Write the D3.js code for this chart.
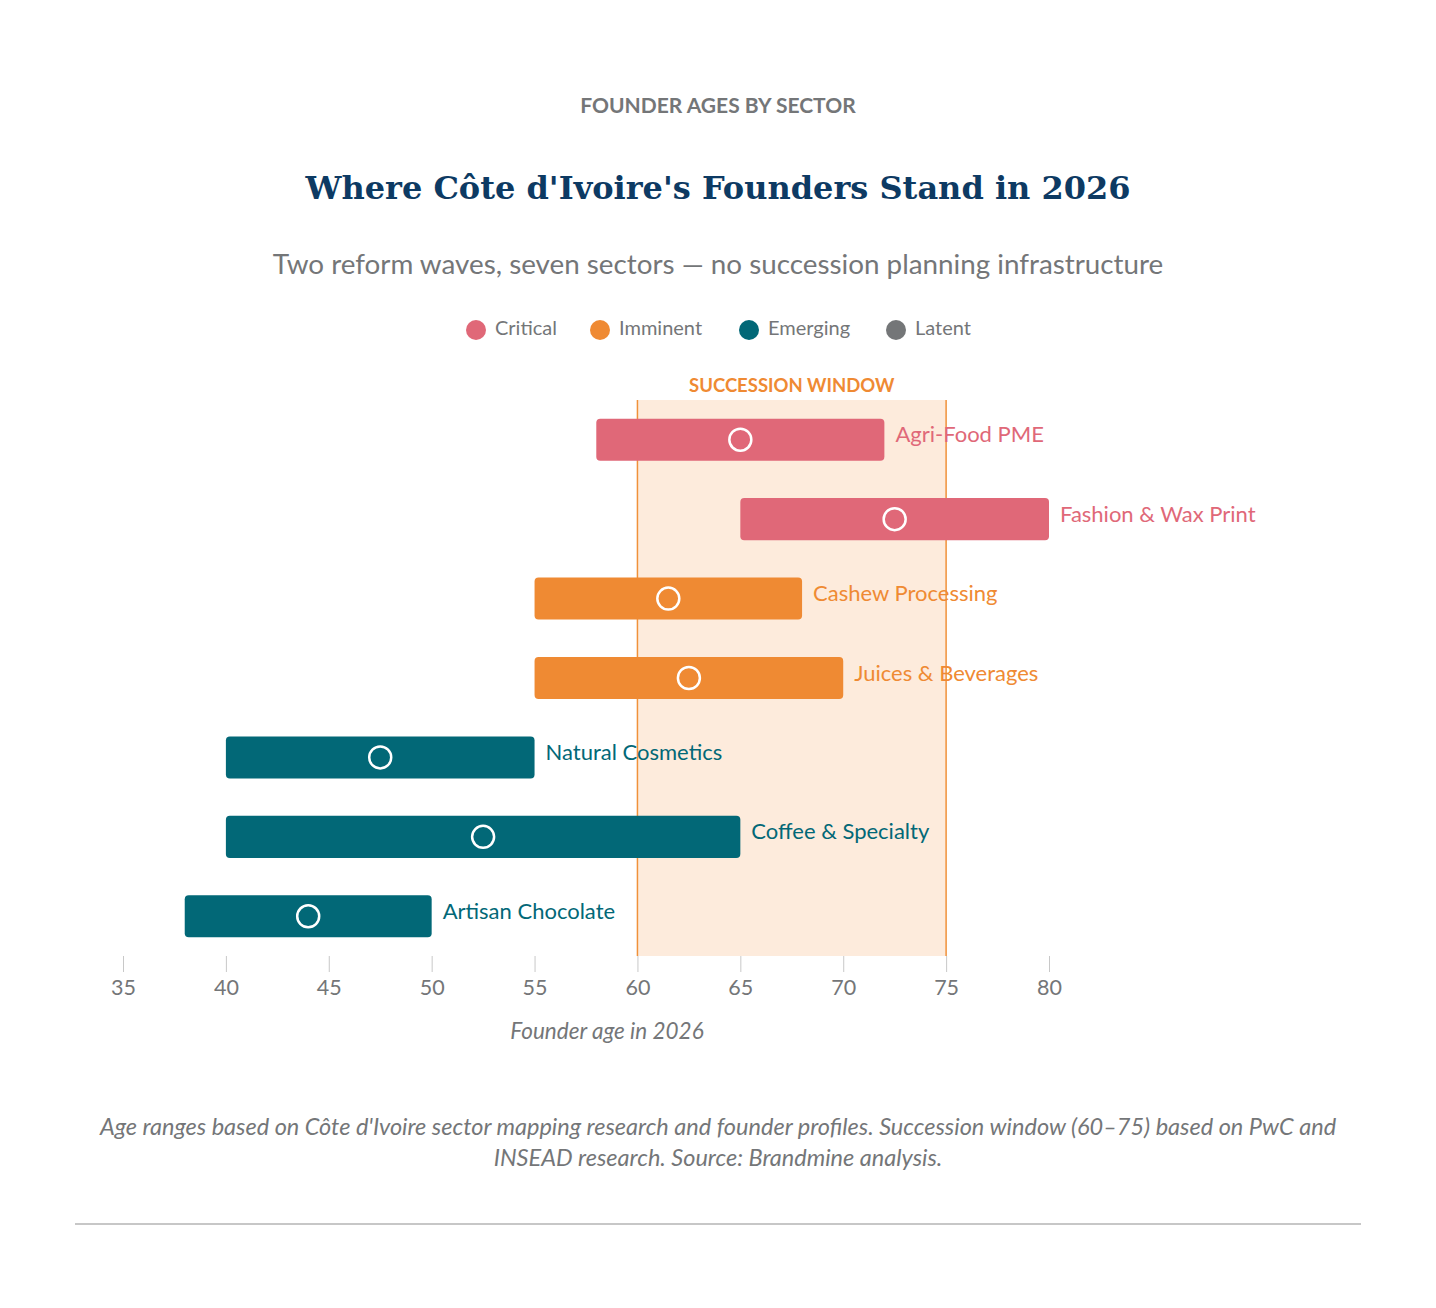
<!DOCTYPE html>
<html><head><meta charset="utf-8">
<script src="https://cdn.jsdelivr.net/npm/d3@7"></script>
<style>
html,body{margin:0;padding:0;background:#fff;}
svg text{font-family:Lato,"Noto Sans",sans-serif;}
</style></head>
<body>
<svg id="chart" width="1436" height="1308"></svg>
<script>
const sectors = ["Agri-Food PME","Fashion & Wax Print","Cashew Processing","Juices & Beverages","Natural Cosmetics","Coffee & Specialty","Artisan Chocolate"];
const ageMin = [58,65,55,55,40,40,38];
const ageMax = [72,80,68,70,55,65,50];
const ageMid = [65,72.5,61.5,62.5,47.5,52.5,44];
const tiers = ["Critical","Critical","Imminent","Imminent","Emerging","Emerging","Emerging"];
const legendTiers = ["Critical","Imminent","Emerging","Latent"];
const tierColors = ["#e06878","#ef8a33","#026877","#747678"];
const windowRange = [60,75];
const xTicks = [35,40,45,50,55,60,65,70,75,80];

const svg = d3.select("#chart");
const color = d3.scaleOrdinal().domain(legendTiers).range(tierColors);
const x = d3.scaleLinear().domain([35,80]).range([123,1049]);
const y = d3.scaleBand().domain(sectors).range([400,956]).paddingInner(0.47).paddingOuter(0.235);

// Header
svg.append("text").attr("x",718).attr("y",113).attr("text-anchor","middle")
  .attr("font-size",21).attr("font-weight",700).attr("fill","#747678")
  .text("FOUNDER AGES BY SECTOR");
svg.append("text").attr("x",718).attr("y",199).attr("text-anchor","middle")
  .style("font-family","'DejaVu Serif',serif")
  .attr("font-size",32).attr("font-weight",700).attr("fill","#0d3a63")
  .text("Where Côte d'Ivoire's Founders Stand in 2026");
svg.append("text").attr("x",718).attr("y",274).attr("text-anchor","middle")
  .attr("font-size",27.8).attr("fill","#747678")
  .text("Two reform waves, seven sectors — no succession planning infrastructure");

// Legend
const legX = [476,600,749,896];
const leg = svg.append("g").selectAll("g").data(legendTiers).join("g")
  .attr("transform",(d,i)=>`translate(${legX[i]},330)`);
leg.append("circle").attr("r",10).attr("fill",d=>color(d));
leg.append("text").attr("x",19).attr("y",5).attr("font-size",20).attr("fill","#747678").text(d=>d);

// Succession window
svg.append("rect").attr("x",x(windowRange[0])).attr("y",400)
  .attr("width",x(windowRange[1])-x(windowRange[0])).attr("height",556)
  .attr("fill","#fdebdc");
svg.selectAll("line.win").data(windowRange).join("line").attr("class","win")
  .attr("x1",d=>x(d)).attr("x2",d=>x(d)).attr("y1",400).attr("y2",956)
  .attr("stroke","#f0913a").attr("stroke-width",1.5);
svg.append("text").attr("x",(x(windowRange[0])+x(windowRange[1]))/2).attr("y",392)
  .attr("text-anchor","middle").attr("font-size",18.5).attr("font-weight",700).attr("fill","#ef8a33")
  .text("SUCCESSION WINDOW");

// Bars
const rows = sectors.map((s,i)=>({s,min:ageMin[i],max:ageMax[i],mid:ageMid[i],tier:tiers[i]}));
const g = svg.append("g");
g.selectAll("rect.bar").data(rows).join("rect").attr("class","bar")
  .attr("x",d=>x(d.min)).attr("y",d=>y(d.s)).attr("width",d=>x(d.max)-x(d.min))
  .attr("height",y.bandwidth()).attr("rx",4).attr("fill",d=>color(d.tier));
g.selectAll("circle.mid").data(rows).join("circle").attr("class","mid")
  .attr("cx",d=>x(d.mid)).attr("cy",d=>y(d.s)+y.bandwidth()/2).attr("r",11)
  .attr("fill","none").attr("stroke","#fff").attr("stroke-width",2.5);
g.selectAll("text.lab").data(rows).join("text").attr("class","lab")
  .attr("x",d=>x(d.max)+11).attr("y",d=>y(d.s)+y.bandwidth()/2-3)
  .attr("font-size",22).attr("fill",d=>color(d.tier)).attr("dominant-baseline","middle")
  .text(d=>d.s);

// Axis
const axis = svg.append("g").attr("transform","translate(0,956)")
  .call(d3.axisBottom(x).tickValues(xTicks).tickSize(16).tickPadding(8));
axis.select(".domain").remove();
axis.selectAll(".tick line").attr("stroke","#c8c8c8");
axis.selectAll(".tick text").attr("font-size",21.5).attr("fill","#747678")
  .style("font-family","Lato,'Noto Sans',sans-serif");
svg.append("text").attr("x",607).attr("y",1039).attr("text-anchor","middle")
  .attr("font-size",22.5).attr("font-style","italic").attr("fill","#747678")
  .text("Founder age in 2026");

// Footnote
const foot = ["Age ranges based on Côte d'Ivoire sector mapping research and founder profiles. Succession window (60–75) based on PwC and","INSEAD research. Source: Brandmine analysis."];
svg.selectAll("text.foot").data(foot).join("text").attr("class","foot")
  .attr("x",718).attr("y",(d,i)=>1135+i*31).attr("text-anchor","middle")
  .attr("font-size",23.5).attr("font-style","italic").attr("fill","#747678").text(d=>d);
svg.append("line").attr("x1",75).attr("x2",1361).attr("y1",1224).attr("y2",1224)
  .attr("stroke","#b5b5b5").attr("stroke-width",1.5);
</script>
</body></html>
